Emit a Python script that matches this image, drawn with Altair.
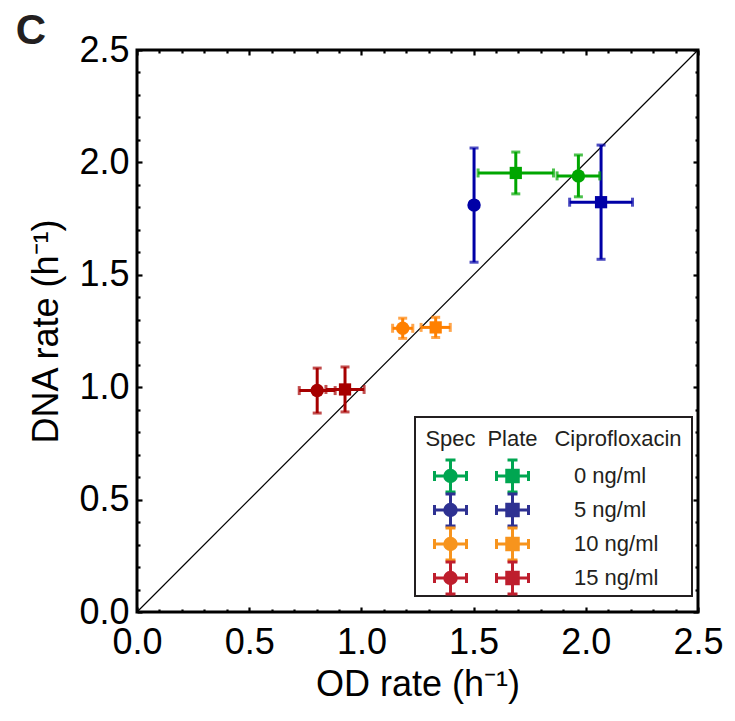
import altair as alt
import pandas as pd

# ---------------- data ----------------
concentrations = ["0 ng/ml", "5 ng/ml", "10 ng/ml", "15 ng/ml"]
# Spec (circles)
spec_od = [1.967, 1.502, 1.184, 0.803]
spec_od_err = [0.095, 0.0, 0.045, 0.080]
spec_dna = [1.94, 1.81, 1.262, 0.985]
spec_dna_err = [0.093, 0.254, 0.045, 0.100]
# Plate (squares)
plate_od = [1.688, 2.068, 1.331, 0.927]
plate_od_err = [0.168, 0.140, 0.065, 0.085]
plate_dna = [1.953, 1.823, 1.266, 0.99]
plate_dna_err = [0.093, 0.254, 0.045, 0.100]

data_colors = ["#00A600", "#0000A6", "#FF8000", "#A60000"]
legend_colors = ["#00A651", "#2E3192", "#F7941D", "#BE1E2D"]

major_ticks = [0.0, 0.5, 1.0, 1.5, 2.0, 2.5]
minor_ticks = [0.1, 0.2, 0.3, 0.4, 0.6, 0.7, 0.8, 0.9, 1.1, 1.2, 1.3, 1.4,
               1.6, 1.7, 1.8, 1.9, 2.1, 2.2, 2.3, 2.4]
diag = [0.0, 2.5]

# ---------------- layout ----------------
W, H = 561, 562
FONT = "Liberation Sans"
DOMAIN = [0.0, 2.5]

rows = []
for i, c in enumerate(concentrations):
    rows.append(dict(conc=c, method="Spec", shape="circle", col=data_colors[i],
                     od=spec_od[i], ode=spec_od_err[i], dna=spec_dna[i], dnae=spec_dna_err[i]))
    rows.append(dict(conc=c, method="Plate", shape="square", col=data_colors[i],
                     od=plate_od[i], ode=plate_od_err[i], dna=plate_dna[i], dnae=plate_dna_err[i]))
df = pd.DataFrame(rows)
df["od_lo"] = df.od - df.ode
df["od_hi"] = df.od + df.ode
df["dna_lo"] = df.dna - df.dnae
df["dna_hi"] = df.dna + df.dnae

diag_df = pd.DataFrame({"x": diag, "y": diag})

sc = alt.Scale(domain=DOMAIN, nice=False, zero=False)


def X(field, **kw):
    return alt.X(field, type="quantitative", scale=sc, **kw)


def Y(field, **kw):
    return alt.Y(field, type="quantitative", scale=sc, **kw)


# diagonal + label axes
label_x = alt.Axis(orient="bottom", values=major_ticks, format=".1f", ticks=False, tickSize=0,
                   domain=False, grid=False, labelFont=FONT, labelFontSize=36, labelColor="black",
                   labelPadding=13, labelFlush=False, labelOverlap=False,
                   title="OD rate (h\u207b\u00b9)", titleFont=FONT, titleFontSize=36,
                   titleFontWeight="normal", titleColor="black", titlePadding=7)
label_y = alt.Axis(orient="left", values=major_ticks, format=".1f", ticks=False, tickSize=0,
                   domain=False, grid=False, labelFont=FONT, labelFontSize=36, labelColor="black",
                   labelPadding=8, labelFlush=False, labelOverlap=False,
                   title="DNA rate (h\u207b\u00b9)", titleFont=FONT, titleFontSize=36,
                   titleFontWeight="normal", titleColor="black", titlePadding=13)

line = alt.Chart(diag_df).mark_line(color="black", strokeWidth=1.2).encode(
    x=X("x", axis=label_x), y=Y("y", axis=label_y))


def tick_axis(orient, values, size, offset):
    return alt.Axis(orient=orient, values=values, offset=offset, labels=False, domain=False,
                    grid=False, ticks=True, tickSize=size, tickWidth=2.2, tickColor="black",
                    title=None)


def tick_layer(xo, yo, values, size, xoff, yoff):
    return alt.Chart(diag_df).mark_line(opacity=0).encode(
        x=X("x", axis=tick_axis(xo, values, size, xoff)),
        y=Y("y", axis=tick_axis(yo, values, size, yoff)))


# inward ticks: top-orient axis moved to bottom edge, etc.
t1 = tick_layer("top", "right", minor_ticks, 3, -H, -W)
t2 = tick_layer("top", "right", major_ticks, 5, -H, -W)
t3 = tick_layer("bottom", "left", minor_ticks, 3, -H, -W)
t4 = tick_layer("bottom", "left", major_ticks, 5, -H, -W)

# data error bars
eb_style = dict(thickness=3, ticks={"size": 9, "thickness": 3})
vbar = alt.Chart(df).mark_errorbar(**eb_style).encode(
    x=X("od", axis=None), y=Y("dna_lo", axis=None), y2="dna_hi",
    color=alt.Color("col:N", scale=None))
hbar = alt.Chart(df).transform_filter("datum.ode > 0").mark_errorbar(**eb_style).encode(
    y=Y("dna", axis=None), x=X("od_lo", axis=None), x2="od_hi",
    color=alt.Color("col:N", scale=None))
pts_c = alt.Chart(df).transform_filter("datum.shape == 'circle'").mark_point(
    filled=True, opacity=1, size=180, shape="circle").encode(
    x=X("od", axis=None), y=Y("dna", axis=None), color=alt.Color("col:N", scale=None))
pts_s = alt.Chart(df).transform_filter("datum.shape == 'square'").mark_point(
    filled=True, opacity=1, size=150, shape="square").encode(
    x=X("od", axis=None), y=Y("dna", axis=None), color=alt.Color("col:N", scale=None))

# ---------------- legend (pixel layout) ----------------
LX0, LX1, LY0, LY1 = 278, 555, 367, 546
COL_SPEC, COL_PLATE, COL_LABEL = 313.5, 375.5, 437
HEAD_Y = 389
ROW_Y0, ROW_DY = 426, 34
ARM, CAP = 16, 5

box = alt.Chart(pd.DataFrame({"a": [0]})).mark_rect(
    fill="white", stroke="#231F20", strokeWidth=2).encode(
    x=alt.value(LX0), x2=alt.value(LX1), y=alt.value(LY0), y2=alt.value(LY1))

heads = pd.DataFrame({"t": ["Spec", "Plate", "Ciprofloxacin"],
                      "px": [COL_SPEC, COL_PLATE, 481]})
head_txt = alt.Chart(heads).mark_text(font=FONT, fontSize=22, color="#231F20",
                                      baseline="middle", align="center").encode(
    x=alt.X("px:Q", scale=None, axis=None), y=alt.value(HEAD_Y), text="t:N")

seg, sym, lab = [], [], []
for i, c in enumerate(concentrations):
    cy = ROW_Y0 + i * ROW_DY
    col = legend_colors[i]
    lab.append(dict(t=c, px=COL_LABEL, py=cy, col="#231F20"))
    for cx, shp in [(COL_SPEC, "circle"), (COL_PLATE, "square")]:
        sym.append(dict(px=cx, py=cy, shape=shp, col=col))
        seg += [
            dict(x=cx - ARM, x2=cx + ARM, y=cy, y2=cy, col=col),
            dict(x=cx, x2=cx, y=cy - ARM, y2=cy + ARM, col=col),
            dict(x=cx - ARM, x2=cx - ARM, y=cy - CAP, y2=cy + CAP, col=col),
            dict(x=cx + ARM, x2=cx + ARM, y=cy - CAP, y2=cy + CAP, col=col),
            dict(x=cx - CAP, x2=cx + CAP, y=cy - ARM, y2=cy - ARM, col=col),
            dict(x=cx - CAP, x2=cx + CAP, y=cy + ARM, y2=cy + ARM, col=col),
        ]
seg_df, sym_df, lab_df = pd.DataFrame(seg), pd.DataFrame(sym), pd.DataFrame(lab)

leg_rules = alt.Chart(seg_df).mark_rule(strokeWidth=3).encode(
    x=alt.X("x:Q", scale=None, axis=None), x2="x2:Q",
    y=alt.Y("y:Q", scale=None, axis=None), y2="y2:Q",
    color=alt.Color("col:N", scale=None))
leg_c = alt.Chart(sym_df).transform_filter("datum.shape == 'circle'").mark_point(
    filled=True, opacity=1, size=210, shape="circle").encode(
    x=alt.X("px:Q", scale=None, axis=None), y=alt.Y("py:Q", scale=None, axis=None),
    color=alt.Color("col:N", scale=None))
leg_s = alt.Chart(sym_df).transform_filter("datum.shape == 'square'").mark_point(
    filled=True, opacity=1, size=210, shape="square").encode(
    x=alt.X("px:Q", scale=None, axis=None), y=alt.Y("py:Q", scale=None, axis=None),
    color=alt.Color("col:N", scale=None))
leg_txt = alt.Chart(lab_df).mark_text(font=FONT, fontSize=22, align="left",
                                      baseline="middle", color="#231F20").encode(
    x=alt.X("px:Q", scale=None, axis=None), y=alt.Y("py:Q", scale=None, axis=None),
    text="t:N")

panel = alt.Chart(pd.DataFrame({"t": ["C"]})).mark_text(
    font=FONT, fontSize=42, fontWeight="bold", color="#231F20",
    align="center", baseline="middle").encode(
    x=alt.value(-106), y=alt.value(-19), text="t:N")

chart = alt.layer(
    line, t1, t2, t3, t4, vbar, hbar, pts_c, pts_s,
    box, head_txt, leg_rules, leg_c, leg_s, leg_txt, panel
).resolve_axis(x="independent", y="independent").properties(
    width=W, height=H,
    autosize=alt.AutoSizeParams(type="none"),
    padding={"left": 137, "top": 50, "right": 37, "bottom": 109},
    background="white",
).configure_view(stroke="black", strokeWidth=3)

chart.save("out.html", embed_options={"renderer": "svg", "actions": False})
